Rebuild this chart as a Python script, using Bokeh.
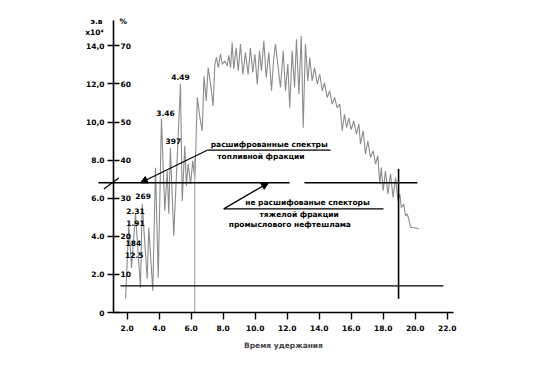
from bokeh.plotting import figure
from bokeh.models import FixedTicker, Arrow, NormalHead
from bokeh.embed import file_html
from bokeh.resources import INLINE
from bokeh.core.properties import value

# ---- chromatogram trace (retention time, signal э.в x10^4) ----
rt = [1.90, 2.10, 2.27, 2.52, 2.83, 2.94, 3.25, 3.35, 3.60, 3.77, 3.94, 4.14, 4.35, 4.50,
      4.60, 4.70, 4.91, 5.33, 5.44, 5.60, 5.70, 5.81, 5.96, 6.10, 6.22, 6.25, 6.38, 6.55,
      6.69, 6.80, 6.94, 7.06, 7.20, 7.37, 7.48, 7.58, 7.69, 7.83, 7.94, 8.10, 8.25, 8.35,
      8.46, 8.56, 8.66, 8.81, 8.94, 9.08, 9.23, 9.39, 9.56, 9.70, 9.85, 9.98, 10.13, 10.27,
      10.39, 10.54, 10.69, 10.85, 11.02, 11.16, 11.27, 11.41, 11.58, 11.75, 11.89, 12.04,
      12.16, 12.31, 12.46, 12.58, 12.73, 12.88, 13.00, 13.14, 13.29, 13.41, 13.56, 13.71,
      13.88, 14.04, 14.19, 14.33, 14.50, 14.66, 14.81, 14.96, 15.12, 15.29, 15.44, 15.58,
      15.71, 15.85, 16.00, 16.16, 16.33, 16.48, 16.58, 16.75, 16.89, 17.04, 17.21, 17.38,
      17.52, 17.66, 17.79, 17.88, 18.00, 18.14, 18.29, 18.46, 18.62, 18.77, 18.92, 19.04,
      19.13, 19.29, 19.39, 19.50, 19.60, 19.71, 19.91, 20.23]
signal = [0.72, 4.65, 2.35, 5.18, 1.30, 5.70, 1.77, 4.45, 1.14, 7.60, 1.82, 10.16, 5.34, 7.44,
          5.18, 8.64, 4.03, 12.00, 5.86, 8.75, 6.65, 7.80, 6.75, 7.96, 7.07, 7.50, 11.30, 10.20,
          9.54, 12.40, 11.10, 12.86, 12.07, 10.85, 13.04, 13.40, 12.86, 13.56, 13.04, 13.20, 12.95, 13.50,
          12.86, 14.17, 12.78, 13.90, 12.69, 14.09, 12.50, 13.65, 12.50, 13.90, 12.60, 13.56, 11.99, 13.74,
          12.69, 14.26, 12.34, 13.65, 11.64, 13.39, 14.09, 13.04, 11.81, 13.74, 11.64, 13.04,
          10.76, 13.74, 11.81, 14.35, 11.46, 14.53, 9.70, 14.09, 12.16, 13.39, 12.16, 12.86,
          11.99, 12.51, 11.64, 12.07, 11.29, 11.64, 10.94, 11.29, 10.76, 10.94, 9.54, 10.41,
          9.71, 10.20, 9.60, 10.06, 9.36, 9.89, 8.84, 9.54, 8.31, 9.01, 8.14, 8.49,
          7.79, 8.23, 6.74, 7.61, 6.39, 7.44, 6.22, 7.27, 6.04, 7.09, 5.86, 6.22,
          5.51, 5.69, 5.08, 5.17, 4.90, 4.46, 4.46, 4.38]

# ---- axes ----
x_ticks = [2, 4, 6, 8, 10, 12, 14, 16, 18, 20, 22]
x_tick_labels = ["2.0", "4.0", "6.0", "8.0", "10.0", "12.0", "14.0", "16.0", "18.0", "20.0", "22.0"]
y_ticks = [0, 2, 4, 6, 8, 10, 12, 14]
y_tick_labels = ["0", "2.0", "4.0", "6.0", "8.0", "10,0", "12,0", "14,0"]
pct_y = [2, 4, 6, 8, 10, 12, 14]
pct_labels = ["10", "20", "30", "40", "50", "60", "70"]

# ---- axis headers ----
head_x = [1.52, 0.08, -0.04]
head_y = [15.26, 15.26, 14.71]
head_text = ["%", "э.в", "x10⁴"]
head_align = ["left", "center", "center"]

# ---- peak labels ----
peak_x = [5.33, 4.39, 4.89, 2.99, 2.52, 2.52, 2.39, 2.44]
peak_y = [12.35, 10.46, 9.01, 6.10, 5.31, 4.68, 3.63, 3.00]
peak_text = ["4.49", "3.46", "397", "269", "2.31", "1.91", "184", "12.5"]

# ---- reference lines ----
hline_x0 = [0.2, 13.08, 1.58]
hline_x1 = [12.15, 20.14, 21.77]
hline_y = [6.81, 6.81, 1.40]
end_time = 18.96
end_y = [0.72, 7.54]
marker_time = 6.22
marker_y = [0.0, 8.1]

# ---- annotations ----
note_x = [10.96, 10.52, 13.35, 12.91, 12.41]
note_y = [8.82, 8.20, 5.77, 5.13, 4.60]
note_text = ["расшифрованные  спектры", "топливной   фракции",
             "не расшифованые  спекторы", "тяжелой   фракции", "промыслового    нефтешлама"]

FONT = "DejaVu Sans"

p = figure(width=527, height=378, x_range=(1.144, 22.394), y_range=(0, 15.33),
           output_backend="svg", toolbar_location=None, title=None,
           min_border_left=113, min_border_right=74, min_border_top=20, min_border_bottom=66)
p.outline_line_color = None
p.grid.visible = False
p.background_fill_color = "white"

for ax in (p.xaxis[0], p.yaxis[0]):
    ax.axis_line_color = "black"
    ax.axis_line_width = 1.6
    ax.major_tick_line_color = "black"
    ax.major_tick_line_width = 1.4
    ax.minor_tick_line_color = None
    ax.major_label_text_font = FONT
    ax.major_label_text_font_style = "bold"
    ax.major_label_text_font_size = "7.5px"
    ax.major_label_text_color = "black"

p.xaxis.ticker = FixedTicker(ticks=x_ticks)
p.xaxis.major_label_overrides = {t: l for t, l in zip(x_ticks, x_tick_labels)}
p.xaxis.major_tick_in = 0
p.xaxis.major_tick_out = 7
p.xaxis.major_label_standoff = 5
p.xaxis.axis_label = "Время удержания"
p.xaxis.axis_label_text_font = FONT
p.xaxis.axis_label_text_font_style = "bold"
p.xaxis.axis_label_text_font_size = "7.5px"
p.xaxis.axis_label_standoff = 7

p.yaxis.ticker = FixedTicker(ticks=y_ticks)
p.yaxis.major_label_overrides = {t: l for t, l in zip(y_ticks, y_tick_labels)}
p.yaxis.major_tick_in = 6
p.yaxis.major_tick_out = 6
p.yaxis.major_label_standoff = 3

# trace
p.line(rt, signal, line_color="#8c8c8c", line_width=1.1)
p.segment(x0=[marker_time], y0=[marker_y[0]], x1=[marker_time], y1=[marker_y[1]],
          line_color="#a8a8a8", line_width=1.2)

# black reference lines (drawn above the frame clip)
p.segment(x0=hline_x0, y0=hline_y, x1=hline_x1, y1=hline_y, line_color="black",
          line_width=1.4, level="overlay")
p.segment(x0=[end_time], y0=[end_y[0]], x1=[end_time], y1=[end_y[1]], line_color="black",
          line_width=1.6, level="overlay")
# axis break mark
p.segment(x0=[0.54], y0=[6.48], x1=[1.475], y1=[7.06], line_color="black",
          line_width=1.2, level="overlay")

# leader lines + arrows
p.line([14.71, 7.0], [8.52, 8.52], line_color="black", line_width=1.2)
p.add_layout(Arrow(end=NormalHead(size=7, fill_color="black", line_color="black"),
                   x_start=7.0, y_start=8.52, x_end=2.83, y_end=6.81,
                   line_color="black", line_width=1.2))
p.line([18.02, 8.03], [5.44, 5.44], line_color="black", line_width=1.2)
p.add_layout(Arrow(end=NormalHead(size=7, fill_color="black", line_color="black"),
                   x_start=8.03, y_start=5.44, x_end=10.83, y_end=6.81,
                   line_color="black", line_width=1.2))

txt = dict(text_font=value(FONT), text_font_style="bold", text_font_size="7.5px",
           text_color="black", text_baseline="middle", text_align="center")
p.text(x=note_x, y=note_y, text=note_text, **txt)
p.text(x=peak_x, y=peak_y, text=peak_text, **txt)
p.text(x=[1.58] * len(pct_y), y=pct_y, text=pct_labels,
       text_font=value(FONT), text_font_style="bold", text_font_size="7.5px",
       text_color="black", text_baseline="middle", text_align="left")
p.text(x=head_x, y=head_y, text=head_text, text_align=head_align,
       text_font=value(FONT), text_font_style="bold", text_font_size="7.5px",
       text_color="black", text_baseline="middle", level="overlay")

open("out.html", "w").write(file_html(p, INLINE))
